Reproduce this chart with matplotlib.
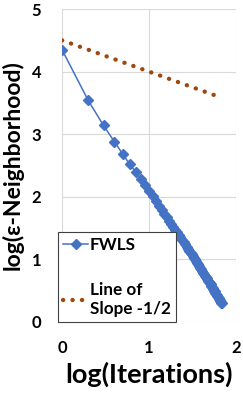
import numpy as np
from matplotlib import pyplot as plt

# FWLS convergence, values
iterations = np.arange(1, 70)
fwls = [4.35, 3.54, 3.14, 2.88, 2.68, 2.52, 2.40, 2.29, 2.19, 2.10,
        2.01, 1.93, 1.86, 1.79, 1.73, 1.67, 1.62, 1.57, 1.52, 1.47,
        1.43, 1.39, 1.35, 1.31, 1.27, 1.24, 1.20, 1.17, 1.14, 1.11,
        1.08, 1.05, 1.02, 1.00, 0.97, 0.94, 0.92, 0.89, 0.86, 0.84,
        0.81, 0.79, 0.77, 0.74, 0.72, 0.70, 0.68, 0.66, 0.64, 0.62,
        0.60, 0.58, 0.56, 0.54, 0.52, 0.50, 0.49, 0.47, 0.45, 0.43,
        0.42, 0.40, 0.39, 0.37, 0.35, 0.34, 0.32, 0.31, 0.30]

# reference line of slope -1/2
slope_x = [0.0, 1.75]
slope_y = [4.5, 3.625]

xticks = [0, 1, 2]
yticks = [0, 1, 2, 3, 4, 5]

plt.rcParams['font.family'] = ['Lato', 'DejaVu Sans']
plt.rcParams['font.weight'] = 'bold'

fig = plt.figure(figsize=(2.43, 3.93), dpi=100)
ax = fig.add_axes([62/243, 1 - 322/393, 174/243, 313/393])

ax.plot(slope_x, slope_y, color="#9E480E", linewidth=3.1,
        linestyle=(0, (0.05, 2.15)), dash_capstyle="round",
        label="Line of\nSlope -1/2")
ax.plot(np.log10(iterations), fwls, color="#4472C4", linewidth=1.1,
        marker="D", markersize=5.2, label="FWLS", zorder=3)

ax.set_xlim(0, 2)
ax.set_ylim(0, 5)
ax.set_xticks(xticks)
ax.set_yticks(yticks)
ax.grid(True, color="#D9D9D9", linewidth=0.8)
ax.set_axisbelow(True)
for s in ax.spines.values():
    s.set_visible(False)
ax.tick_params(length=0, labelsize=12, pad=13)
ax.tick_params(axis="y", pad=15)

ax.set_xlabel("log(Iterations)", fontsize=19.5, fontweight="bold", labelpad=4)
ax.set_ylabel("log(\u03b5-Neighborhood)", fontsize=16.5, fontweight="bold", labelpad=6)

h, l = ax.get_legend_handles_labels()
leg = ax.legend(h[::-1], l[::-1], loc="lower left",
                bbox_to_anchor=(58/243, 1 - 322/393), bbox_transform=fig.transFigure,
                fancybox=False, framealpha=1, edgecolor="#404040",
                fontsize=12.3, handlelength=1.45, handletextpad=0.1,
                borderaxespad=0, borderpad=0.3, labelspacing=1.7)
leg.get_frame().set_linewidth(0.8)

fig.savefig("out.png", dpi=100)
